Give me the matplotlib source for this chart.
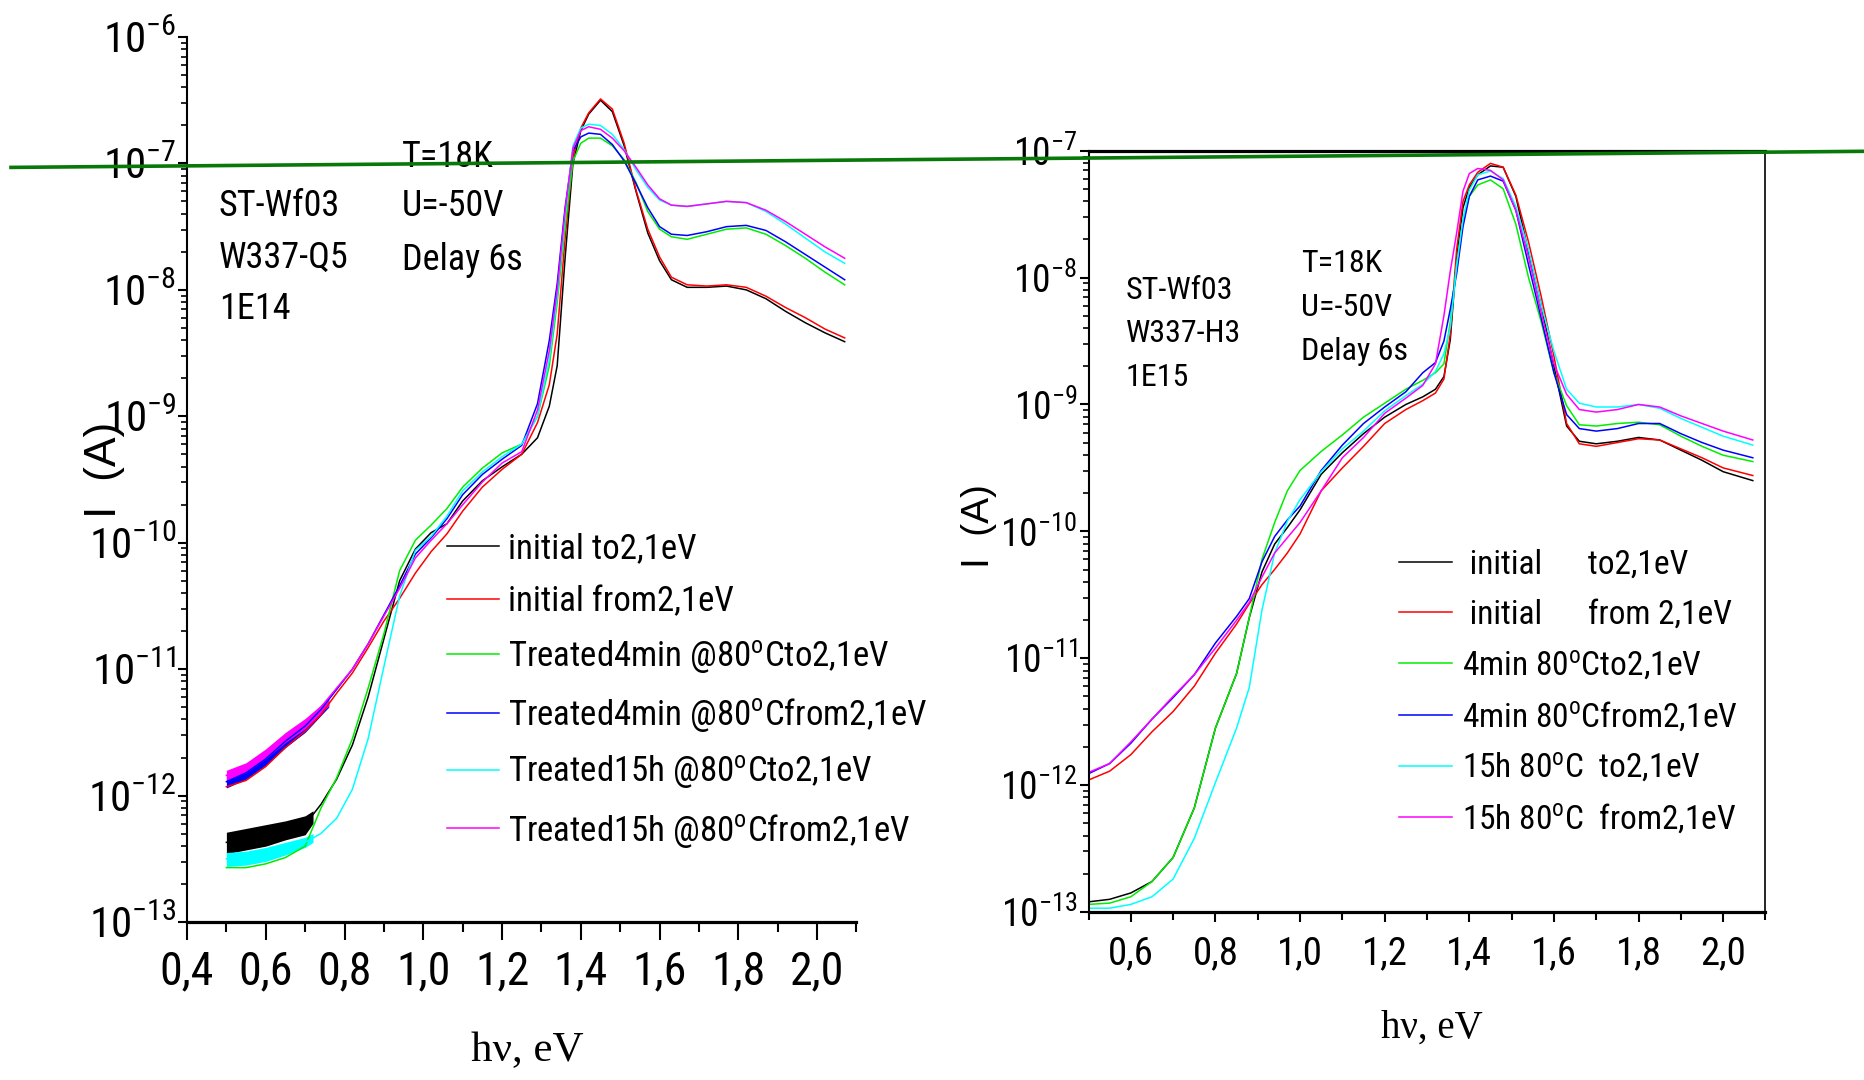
import matplotlib
matplotlib.use("Agg")
import matplotlib.pyplot as plt
import numpy as np
from matplotlib import font_manager
from matplotlib.lines import Line2D
from matplotlib.ticker import MultipleLocator, FuncFormatter, LogLocator

# condensed sans if one is installed, Arial-like otherwise
installed = {f.name for f in font_manager.fontManager.ttflist}
NARROW = next((n for n in ["Liberation Sans Narrow", "Roboto Condensed",
                           "Open Sans Condensed"] if n in installed),
              "Liberation Sans")
plt.rcParams["font.family"] = [NARROW, "Liberation Sans", "DejaVu Sans"]
plt.rcParams["mathtext.default"] = "regular"

# ---- sample ST-Wf03 / W337-Q5, 1E14 : photocurrent, log10(I / A) ----
e_L = [0.50, 0.55, 0.60, 0.65, 0.70, 0.74, 0.78, 0.82, 0.86, 0.90, 0.94, 0.98,
       1.02, 1.06, 1.10, 1.15, 1.20, 1.25, 1.29, 1.32, 1.34, 1.36, 1.38, 1.40,
       1.42, 1.45, 1.48, 1.51, 1.54, 1.57, 1.60, 1.63, 1.67, 1.72, 1.77, 1.82,
       1.87, 1.92, 1.97, 2.02, 2.07]
init_to_L = [-12.37, -12.34, -12.31, -12.27, -12.23, -12.07, -11.87, -11.60, -11.22, -10.76,
             -10.30, -10.05, -9.92, -9.85, -9.67, -9.51, -9.40, -9.30, -9.17, -8.92,
             -8.60, -7.75, -7.00, -6.74, -6.61, -6.50, -6.59, -6.86, -7.22, -7.55,
             -7.77, -7.92, -7.98, -7.98, -7.97, -8.00, -8.07, -8.17, -8.26, -8.34, -8.41]
init_from_L = [-11.93, -11.88, -11.77, -11.62, -11.49, -11.36, -11.19, -11.03, -10.83, -10.62,
               -10.44, -10.24, -10.07, -9.93, -9.75, -9.56, -9.42, -9.30, -9.05, -8.75,
               -8.35, -7.60, -6.95, -6.72, -6.60, -6.49, -6.57, -6.84, -7.21, -7.52,
               -7.74, -7.90, -7.96, -7.97, -7.96, -7.98, -8.05, -8.14, -8.22, -8.31, -8.38]
t4m_to_L = [-12.57, -12.57, -12.54, -12.49, -12.40, -12.10, -11.86, -11.55, -11.15, -10.72,
            -10.22, -9.98, -9.86, -9.73, -9.56, -9.41, -9.29, -9.22, -9.00, -8.60,
            -8.10, -7.50, -6.98, -6.84, -6.80, -6.80, -6.86, -6.97, -7.15, -7.38,
            -7.52, -7.58, -7.60, -7.56, -7.52, -7.51, -7.56, -7.65, -7.75, -7.86, -7.96]
t4m_from_L = [-11.89, -11.82, -11.71, -11.57, -11.45, -11.32, -11.16, -11.00, -10.80, -10.57,
              -10.34, -10.09, -9.96, -9.81, -9.62, -9.46, -9.34, -9.23, -8.90, -8.40,
              -7.95, -7.35, -6.90, -6.79, -6.76, -6.77, -6.85, -6.98, -7.16, -7.35,
              -7.50, -7.56, -7.57, -7.54, -7.50, -7.49, -7.53, -7.62, -7.72, -7.82, -7.92]
t15h_to_L = [-12.50, -12.49, -12.46, -12.42, -12.37, -12.30, -12.18, -11.95, -11.55, -10.98,
             -10.42, -10.06, -9.95, -9.79, -9.59, -9.44, -9.32, -9.22, -9.00, -8.55,
             -8.05, -7.42, -6.86, -6.72, -6.69, -6.70, -6.77, -6.89, -7.05, -7.19,
             -7.29, -7.33, -7.34, -7.32, -7.30, -7.31, -7.38, -7.48, -7.59, -7.70, -7.79]
t15h_from_L = [-11.84, -11.78, -11.67, -11.54, -11.43, -11.30, -11.15, -11.00, -10.80, -10.58,
               -10.36, -10.12, -9.98, -9.85, -9.70, -9.52, -9.37, -9.28, -8.95, -8.48,
               -8.00, -7.38, -6.88, -6.74, -6.71, -6.73, -6.80, -6.90, -7.03, -7.17,
               -7.28, -7.33, -7.34, -7.32, -7.30, -7.31, -7.37, -7.46, -7.56, -7.66, -7.75]

# noise spread of the low-energy end (lower / upper edge of the trace)
band_e_L = [0.50, 0.55, 0.60, 0.65, 0.70, 0.72]
init_to_lo_L = [-12.46, -12.43, -12.40, -12.35, -12.31, -12.22]
init_to_hi_L = [-12.29, -12.26, -12.23, -12.20, -12.16, -12.12]
t15h_to_lo_L = [-12.56, -12.55, -12.52, -12.47, -12.41, -12.37]
t15h_to_hi_L = [-12.45, -12.44, -12.41, -12.37, -12.33, -12.30]
band2_e_L = [0.50, 0.55, 0.60, 0.65, 0.70, 0.76]
t4m_from_lo_L = [-11.94, -11.87, -11.76, -11.62, -11.50, -11.30]
t4m_from_hi_L = [-11.84, -11.77, -11.66, -11.52, -11.40, -11.24]
t15h_from_lo_L = [-11.88, -11.82, -11.71, -11.58, -11.47, -11.29]
t15h_from_hi_L = [-11.80, -11.74, -11.63, -11.50, -11.39, -11.23]

# ---- sample ST-Wf03 / W337-H3, 1E15 ----
e_R = [0.50, 0.55, 0.60, 0.65, 0.70, 0.75, 0.80, 0.85, 0.88, 0.91, 0.94, 0.97,
       1.00, 1.05, 1.10, 1.15, 1.20, 1.25, 1.29, 1.32, 1.34, 1.355, 1.37, 1.385,
       1.40, 1.42, 1.45, 1.48, 1.51, 1.54, 1.57, 1.60, 1.63, 1.66, 1.70, 1.75,
       1.80, 1.85, 1.90, 1.95, 2.00, 2.07]
init_to_R = [-12.92, -12.90, -12.85, -12.76, -12.57, -12.18, -11.55, -11.12, -10.68, -10.32,
             -10.10, -9.97, -9.83, -9.55, -9.38, -9.23, -9.10, -9.00, -8.94, -8.88,
             -8.78, -8.49, -7.85, -7.45, -7.29, -7.19, -7.12, -7.13, -7.36, -7.80,
             -8.22, -8.70, -9.17, -9.29, -9.31, -9.29, -9.26, -9.28, -9.36, -9.44, -9.53, -9.60]
init_from_R = [-11.96, -11.89, -11.76, -11.58, -11.42, -11.22, -10.96, -10.73, -10.57, -10.42,
               -10.30, -10.17, -10.02, -9.68, -9.50, -9.33, -9.15, -9.04, -8.97, -8.91,
               -8.80, -8.45, -7.78, -7.40, -7.27, -7.17, -7.10, -7.13, -7.35, -7.72,
               -8.15, -8.62, -9.15, -9.31, -9.33, -9.30, -9.27, -9.28, -9.35, -9.42, -9.50, -9.56]
t4m_to_R = [-12.94, -12.93, -12.88, -12.76, -12.57, -12.18, -11.55, -11.12, -10.68, -10.22,
            -9.93, -9.68, -9.52, -9.37, -9.24, -9.10, -8.99, -8.88, -8.81, -8.75,
            -8.68, -8.35, -7.90, -7.55, -7.36, -7.27, -7.23, -7.30, -7.58, -8.00,
            -8.35, -8.75, -9.01, -9.16, -9.17, -9.15, -9.14, -9.16, -9.25, -9.33, -9.40, -9.45]
t4m_from_R = [-11.91, -11.83, -11.67, -11.48, -11.31, -11.13, -10.88, -10.67, -10.53, -10.24,
              -10.04, -9.91, -9.80, -9.52, -9.32, -9.15, -9.02, -8.90, -8.75, -8.67,
              -8.50, -8.25, -7.97, -7.60, -7.36, -7.23, -7.20, -7.24, -7.47, -7.90,
              -8.32, -8.75, -9.08, -9.19, -9.21, -9.19, -9.15, -9.15, -9.23, -9.30, -9.36, -9.42]
t15h_to_R = [-12.97, -12.97, -12.94, -12.88, -12.74, -12.42, -11.98, -11.55, -11.23, -10.62,
             -10.17, -9.92, -9.75, -9.53, -9.35, -9.21, -9.05, -8.93, -8.84, -8.74,
             -8.60, -8.39, -7.91, -7.54, -7.31, -7.19, -7.16, -7.22, -7.44, -7.78,
             -8.22, -8.58, -8.88, -8.99, -9.02, -9.02, -9.00, -9.03, -9.11, -9.18, -9.25, -9.32]
t15h_from_R = [-11.90, -11.83, -11.66, -11.48, -11.30, -11.13, -10.92, -10.70, -10.56, -10.36,
               -10.17, -10.05, -9.93, -9.68, -9.42, -9.26, -9.07, -8.95, -8.85, -8.68,
               -8.30, -7.95, -7.65, -7.32, -7.18, -7.14, -7.155, -7.23, -7.47, -7.84,
               -8.28, -8.68, -8.92, -9.04, -9.06, -9.04, -9.00, -9.02, -9.09, -9.15, -9.21, -9.28]

colors = ["#000000", "#ff0000", "#00ee00", "#0000ff", "#00ffff", "#ff00ff"]
labels_L = ["initial to2,1eV", "initial from2,1eV",
            "Treated4min @80$^{o}$Cto2,1eV", "Treated4min @80$^{o}$Cfrom2,1eV",
            "Treated15h @80$^{o}$Cto2,1eV", "Treated15h @80$^{o}$Cfrom2,1eV"]
labels_R = [" initial      to2,1eV", " initial      from 2,1eV",
            "4min 80$^{o}$Cto2,1eV", "4min 80$^{o}$Cfrom2,1eV",
            "15h 80$^{o}$C  to2,1eV", "15h 80$^{o}$C  from2,1eV"]

W, H = 1865, 1080


def fx(px):
    return px / W


def fy(py):
    return 1 - py / H


def comma(v, pos):
    return f"{v:.1f}".replace(".", ",")


def style_axes(ax, xlim, ylim, xtick_len, ysize, xsize, xpad, ypad):
    ax.set_yscale("log")
    ax.set_xlim(*xlim)
    ax.set_ylim(*ylim)
    ax.xaxis.set_major_locator(MultipleLocator(0.2))
    ax.xaxis.set_minor_locator(MultipleLocator(0.1))
    ax.xaxis.set_major_formatter(FuncFormatter(comma))
    ax.yaxis.set_major_locator(LogLocator(base=10, numticks=20))
    ax.yaxis.set_minor_locator(LogLocator(base=10, subs=np.arange(2, 10), numticks=20))
    ax.tick_params(axis="x", which="major", direction="out", length=xtick_len[0],
                   width=1.5, labelsize=xsize, pad=xpad)
    ax.tick_params(axis="x", which="minor", direction="out", length=xtick_len[1], width=1.5)
    ax.tick_params(axis="y", which="major", direction="out", length=6.5, width=1.5,
                   labelsize=ysize, pad=ypad)
    ax.tick_params(axis="y", which="minor", direction="out", length=4, width=1.2)
    ax.spines["left"].set_linewidth(1.5)
    ax.spines["bottom"].set_linewidth(2.3)


def plot_set(ax, e, series, labels):
    for y, c, lab in zip(series, colors, labels):
        ax.plot(e, 10 ** np.asarray(y), color=c, lw=1.1, label=lab)


def text_block(lines, x, ys, size):
    for s, y in zip(lines, ys):
        fig.text(fx(x), fy(y), s, fontsize=size, ha="left", va="center")


fig = plt.figure(figsize=(W / 100, H / 100), dpi=100)

# ---------------- left panel ----------------
axL = fig.add_axes([fx(187), fy(922), (856.5 - 187) / W, (922 - 37) / H])
style_axes(axL, (0.4, 2.1), (1e-13, 1e-6), (13, 7), 31, 33, 7, 1)
axL.spines["top"].set_visible(False)
axL.spines["right"].set_visible(False)

for lo, hi, c, be in [(init_to_lo_L, init_to_hi_L, colors[0], band_e_L),
                      (t15h_to_lo_L, t15h_to_hi_L, colors[4], band_e_L),
                      (t4m_from_lo_L, t4m_from_hi_L, colors[3], band2_e_L),
                      (t15h_from_lo_L, t15h_from_hi_L, colors[5], band2_e_L)]:
    axL.fill_between(be, 10 ** np.asarray(lo), 10 ** np.asarray(hi), color=c, lw=0)
plot_set(axL, e_L, [init_to_L, init_from_L, t4m_to_L, t4m_from_L, t15h_to_L, t15h_from_L],
         labels_L)

axL.legend(loc="upper left", bbox_to_anchor=(0.388, 0.441), frameon=False, fontsize=25,
           handlelength=1.5, handletextpad=0.25, labelspacing=0.58, borderpad=0,
           borderaxespad=0)
axL.set_xlabel("h\u03bd, eV", fontsize=31, family="Liberation Serif")
axL.xaxis.set_label_coords(0.509, -0.124)
axL.set_ylabel("I  (A)", fontsize=32, family="Liberation Sans")
axL.yaxis.set_label_coords(-0.093, 0.511)

text_block(["ST-Wf03", "W337-Q5", "1E14"], 219, [206, 258, 309], 26)
text_block(["T=18K", "U=-50V", "Delay 6s"], 402, [157, 206, 260], 26)

# ---------------- right panel ----------------
axR = fig.add_axes([fx(1088.5), fy(912), (1765.5 - 1088.5) / W, (912 - 150.7) / H])
style_axes(axR, (0.5, 2.1), (1e-13, 1e-7), (7, 6), 27, 28, 10, 1.5)
axR.spines["top"].set_linewidth(2.3)
axR.spines["right"].set_linewidth(1.2)

plot_set(axR, e_R, [init_to_R, init_from_R, t4m_to_R, t4m_from_R, t15h_to_R, t15h_from_R],
         labels_R)

axR.legend(loc="upper left", bbox_to_anchor=(0.458, 0.477), frameon=False, fontsize=24,
           handlelength=1.6, handletextpad=0.3, labelspacing=0.53, borderpad=0,
           borderaxespad=0)
axR.set_xlabel("h\u03bd, eV", fontsize=28, family="Liberation Serif")
axR.xaxis.set_label_coords(0.507, -0.128)
axR.set_ylabel("I  (A)", fontsize=28, family="Liberation Sans")
axR.yaxis.set_label_coords(-0.135, 0.507)

text_block(["ST-Wf03", "W337-H3", "1E15"], 1126, [290, 334, 378], 23)
text_block(["T=18K", "U=-50V", "Delay 6s"], 1301, [264, 308, 351], 23)

# hand-drawn guide line across both panels
fig.add_artist(Line2D([fx(11), fx(1865)], [fy(167.4), fy(151.3)], transform=fig.transFigure,
                      color="#087808", lw=2.6, zorder=10))

fig.savefig("out.png", dpi=100)
